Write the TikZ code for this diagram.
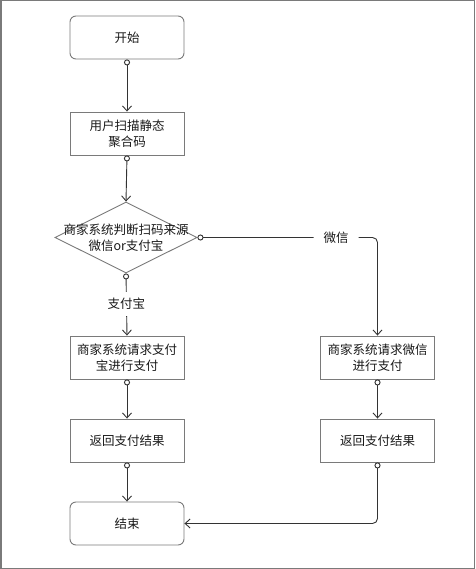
\documentclass[tikz,border=0pt]{standalone}
\usepackage{fontspec}
\setmainfont{Noto Sans CJK SC}
\usetikzlibrary{shapes.geometric,arrows.meta}
\definecolor{boxline}{HTML}{7A7A7A}
\definecolor{conline}{HTML}{333333}
\definecolor{txt}{HTML}{1A1A1A}
\tikzset{
  basebox/.style={draw=boxline, line width=0.9pt, minimum width=114pt, minimum height=43pt,
    inner sep=0pt, align=center, text=txt, font=\fontsize{12.5}{16}\selectfont},
  procbox/.style={basebox},
  termbox/.style={basebox, rounded corners=6pt},
  conn/.style={draw=conline, line width=0.9pt,
    {Circle[open,length=6pt,width=6pt,line width=0.9pt]}-{Straight Barb[length=5pt,width=9pt,line width=0.9pt]}},
  elabel/.style={fill=white, text=txt, inner xsep=10pt, inner ysep=6pt, font=\fontsize{12.5}{16}\selectfont},
}
\begin{document}
\begin{tikzpicture}[x=1pt,y=-1pt]
\draw[draw=boxline, line width=1.5pt, fill=white] (0.75,0.75) rectangle (474.25,568.25);
\useasboundingbox (0,0) rectangle (475,569);

\node[termbox] (start) at (127,37.5) {开始};
\node[procbox] (scan) at (127,133.5) {用户扫描静态\\聚合码};
\node[diamond, draw=boxline, line width=0.9pt, minimum width=142pt, minimum height=71pt, inner sep=0pt] (dia) at (126,237.5) {};
\node[align=center, text=txt, font=\fontsize{12.5}{16}\selectfont, inner sep=0pt] (diatext) at (126,237.5) {商家系统判断扫码来源\\微信or支付宝};
\node[procbox] (ali) at (127,357.5) {商家系统请求支付\\宝进行支付};
\node[procbox] (wx) at (377.5,357.5) {商家系统请求微信\\进行支付};
\node[procbox] (aliret) at (127,440.5) {返回支付结果};
\node[procbox] (wxret) at (377.5,440.5) {返回支付结果};
\node[termbox] (end) at (127,523.5) {结束};

\draw[conn] (start.south) -- (scan.north);
\draw[conn] (scan.south) -- (dia.north);
\draw[conn] (dia.south) -- node[elabel, pos=0.49] (lali) {支付宝} (ali.north);
\draw[conn, rounded corners=5pt] (dia.east) -| node[elabel, pos=0.385] (lwx) {微信} (wx.north);
\draw[conn] (ali.south) -- (aliret.north);
\draw[conn] (wx.south) -- (wxret.north);
\draw[conn] (aliret.south) -- (end.north);
\draw[conn, rounded corners=5pt] (wxret.south) |- (end.east);
\end{tikzpicture}
\end{document}
